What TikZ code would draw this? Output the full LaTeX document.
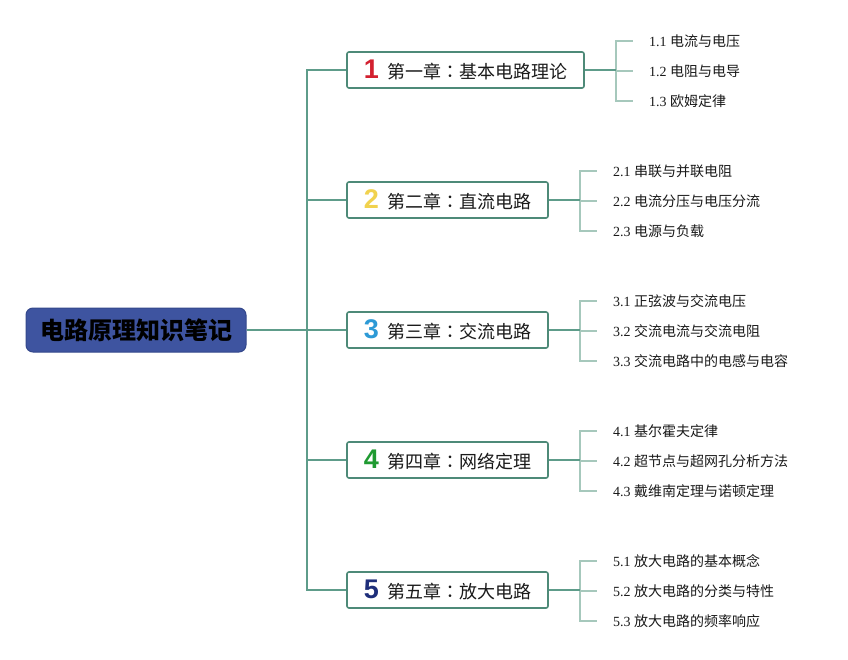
\documentclass[tikz,border=0pt]{standalone}
\usepackage{fontspec}
\setmainfont{Liberation Serif}
\newfontfamily\cjk{Noto Sans CJK SC}
\newfontfamily\cjktc{Noto Sans CJK TC}
\newfontfamily\numfont{Liberation Sans}
\definecolor{rootfill}{HTML}{3E54A0}
\definecolor{rootdraw}{HTML}{34488C}
\definecolor{trunk}{HTML}{5E9C8A}
\definecolor{boxline}{HTML}{4E8A78}
\definecolor{subline}{HTML}{A6C8BC}
\definecolor{nA}{HTML}{D3202F}
\definecolor{nB}{HTML}{F1D24E}
\definecolor{nC}{HTML}{2D9AD6}
\definecolor{nD}{HTML}{1F9A31}
\definecolor{nE}{HTML}{1E2E7A}
\definecolor{txt}{HTML}{1A1A1A}
\tikzset{
  rootbox/.style={draw=rootdraw, line width=1pt, fill=rootfill, rounded corners=7pt,
    minimum width=220pt, minimum height=44pt, inner sep=0pt,
    font=\cjk\bfseries\fontsize{24}{24}\selectfont, text=black},
  chapbox/.style={draw=boxline, line width=1.6pt, fill=white, rounded corners=2pt,
    minimum height=36pt, inner sep=0pt, font=\cjk\fontsize{18}{18}\selectfont, text=txt},
  subtxt/.style={anchor=west, inner sep=0pt, font=\fontsize{14}{14}\selectfont, text=txt},
  trunkline/.style={draw=trunk, line width=1.4pt},
  subl/.style={draw=subline, line width=1.4pt},
}
\newcommand{\chnum}[2]{\textcolor{#1}{\numfont\bfseries\fontsize{27}{27}\selectfont #2}\hspace{8pt}}
\newcommand{\fcolon}{{\cjktc ：}}
\begin{document}
\begin{tikzpicture}[x=1pt,y=-1pt]
\useasboundingbox[fill=white] (0,0) rectangle (848,660);

\node[rootbox] (root) at (136,330) {电路原理知识笔记};

\node[chapbox, minimum width=237pt] (c1) at (465.5,70) {\chnum{nA}{1}第一章\fcolon 基本电路理论};
\node[chapbox, minimum width=201pt] (c2) at (447.5,200) {\chnum{nB}{2}第二章\fcolon 直流电路};
\node[chapbox, minimum width=201pt] (c3) at (447.5,330) {\chnum{nC}{3}第三章\fcolon 交流电路};
\node[chapbox, minimum width=201pt] (c4) at (447.5,460) {\chnum{nD}{4}第四章\fcolon 网络定理};
\node[chapbox, minimum width=201pt] (c5) at (447.5,590) {\chnum{nE}{5}第五章\fcolon 放大电路};

\coordinate (hub) at (307,330);
\foreach \c in {c1,c2,c3,c4,c5}{
  \draw[trunkline] (root.east) -- (hub) |- (\c.west);
}

% subtopics
\node[subtxt] (s11) at (649,41) {1.1 {\cjk 电流与电压}};
\node[subtxt] (s12) at (649,71) {1.2 {\cjk 电阻与电导}};
\node[subtxt] (s13) at (649,101) {1.3 {\cjk 欧姆定律}};

\node[subtxt] (s21) at (613,171) {2.1 {\cjk 串联与并联电阻}};
\node[subtxt] (s22) at (613,201) {2.2 {\cjk 电流分压与电压分流}};
\node[subtxt] (s23) at (613,231) {2.3 {\cjk 电源与负载}};

\node[subtxt] (s31) at (613,301) {3.1 {\cjk 正弦波与交流电压}};
\node[subtxt] (s32) at (613,331) {3.2 {\cjk 交流电流与交流电阻}};
\node[subtxt] (s33) at (613,361) {3.3 {\cjk 交流电路中的电感与电容}};

\node[subtxt] (s41) at (613,431) {4.1 {\cjk 基尔霍夫定律}};
\node[subtxt] (s42) at (613,461) {4.2 {\cjk 超节点与超网孔分析方法}};
\node[subtxt] (s43) at (613,491) {4.3 {\cjk 戴维南定理与诺顿定理}};

\node[subtxt] (s51) at (613,561) {5.1 {\cjk 放大电路的基本概念}};
\node[subtxt] (s52) at (613,591) {5.2 {\cjk 放大电路的分类与特性}};
\node[subtxt] (s53) at (613,621) {5.3 {\cjk 放大电路的频率响应}};

\foreach \c in {1,2,3,4,5}{
  \coordinate (j\c) at ([xshift=31pt]c\c.east);
  \foreach \s in {1,2,3}{
    \draw[subl] (j\c) |- ([xshift=-16pt]s\c\s.west);
  }
  \draw[trunkline] (c\c.east) -- (j\c);
}
\end{tikzpicture}
\end{document}
